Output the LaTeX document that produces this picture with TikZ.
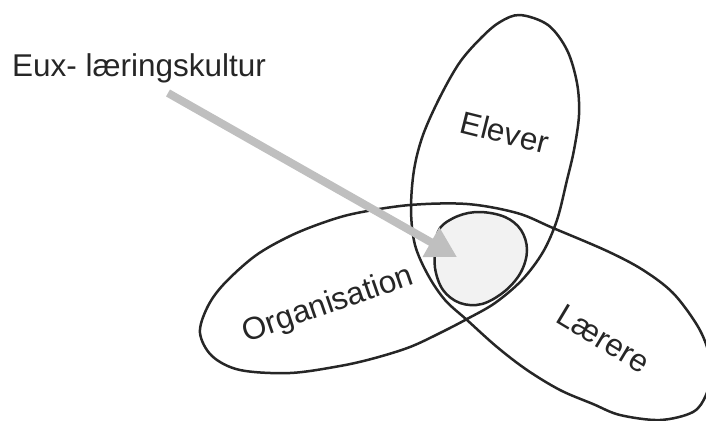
\documentclass[tikz,border=0pt]{standalone}
\usepackage{fontspec}
\setmainfont{Liberation Sans}
\usetikzlibrary{arrows.meta}
\begin{document}
\begin{tikzpicture}[x=1pt,y=-1pt,
  loopline/.style={line width=2.5pt, draw=black!85, line join=round},
  corefill/.style={fill=black!5},
  lbl/.style={font=\fontsize{31.5}{38}\selectfont, text=black!85, inner sep=0pt},
  pointer/.style={line width=8pt, draw=black!25, -{Triangle[length=30pt,width=32pt]}}]
\useasboundingbox (0,0) rectangle (706,420);
\begin{scope}
\clip (0,0) rectangle (706,420);
% small core circle
\filldraw[loopline, corefill] plot[smooth cycle, tension=0.6] coordinates {
 (440,228) (458,216) (480,212) (505,217) (521,230) (527,250) (521,272) (505,291)
 (482,304) (460,303) (443,290) (435,268) (436,246)};
% three-lobed loop
\draw[loopline] plot[smooth cycle, tension=0.55] coordinates {
 (520,15) (548,25) (567,50) (577,83) (579,115) (574,150) (567,180) (557,220)
 (543,252) (522,280) (495,303) (467,319) (440,333) (410,347) (375,358) (340,366)
 (290,373) (240,370) (212,356) (200,333) (207,308) (223,285) (255,256) (290,236)
 (325,222) (357,213) (410,205) (467,204) (517,213) (553,228) (607,251) (643,270)
 (673,293) (697,325) (708,350) (711,372) (706,395) (693,412) (660,420) (620,415)
 (593,404) (560,390) (527,370) (497,347) (467,320) (445,300) (428,275) (415,245)
 (411,210) (414,170) (423,135) (440,97) (460,62) (482,37) (500,22)};
\end{scope}
% labels
\node[lbl, anchor=base west] (title) at (12,77) {Eux- læringskultur};
\node[lbl, anchor=base, rotate=-14] (elever) at (502,143) {Elever};
\node[lbl, anchor=base, rotate=19] (org) at (331,313) {Organisation};
\node[lbl, anchor=base, rotate=-31] (laerere) at (598,348) {Lærere};
% pointer
\coordinate (arrstart) at (168,93);
\coordinate (arrtip) at (457,257);
\draw[pointer] (arrstart) -- (arrtip);
\end{tikzpicture}
\end{document}
